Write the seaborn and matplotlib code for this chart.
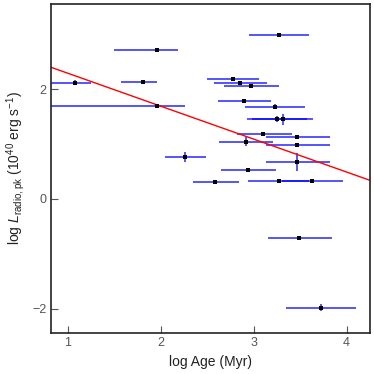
import numpy as np
import matplotlib
matplotlib.use("Agg")
import matplotlib.pyplot as plt
import seaborn as sns

# log Age (Myr) and log L_radio,pk with error bars
log_age = [1.08, 1.96, 1.81, 1.96, 2.26, 3.27, 2.78, 2.85, 2.975, 2.90, 3.23, 3.25,
           3.31, 3.10, 3.47, 2.92, 3.47, 3.47, 2.94, 2.58, 3.27, 3.63, 3.49, 3.72]
log_lum = [2.12, 2.71, 2.13, 1.685, 0.76, 2.98, 2.18, 2.11, 2.05, 1.78, 1.68, 1.455,
           1.45, 1.19, 1.13, 1.04, 0.99, 0.67, 0.53, 0.30, 0.32, 0.32, -0.71, -1.98]
age_err_lo = [0.35, 0.46, 0.24, 1.20, 0.22, 0.32, 0.28, 0.28, 0.29, 0.28, 0.32, 0.32,
              0.33, 0.28, 0.34, 0.29, 0.34, 0.34, 0.29, 0.23, 0.33, 0.33, 0.34, 0.37]
age_err_hi = [0.17, 0.22, 0.15, 0.30, 0.23, 0.33, 0.28, 0.29, 0.30, 0.29, 0.32, 0.32,
              0.33, 0.31, 0.35, 0.29, 0.35, 0.35, 0.30, 0.26, 0.33, 0.33, 0.35, 0.38]
lum_err = [0.04, 0.0, 0.0, 0.0, 0.09, 0.0, 0.03, 0.03, 0.0, 0.0, 0.05, 0.05,
           0.10, 0.0, 0.04, 0.08, 0.02, 0.16, 0.04, 0.0, 0.0, 0.03, 0.0, 0.06]

# linear fit: log L = intercept + slope * log Age
fit_intercept = 2.89
fit_slope = -0.60

sns.set_style("white")
plt.rcParams["font.family"] = ["Liberation Sans", "DejaVu Sans"]
plt.rcParams["mathtext.fontset"] = "custom"
plt.rcParams["mathtext.rm"] = "Liberation Sans"
plt.rcParams["mathtext.it"] = "Liberation Sans:italic"

fig = plt.figure(figsize=(3.74, 3.74), dpi=100)
ax = fig.add_axes([0.136, 0.11, 0.853, 0.879])

xlim = (0.817, 4.25)
ax.errorbar(log_age, log_lum, xerr=[age_err_lo, age_err_hi], yerr=lum_err,
            fmt="none", ecolor="blue", elinewidth=1.1, alpha=0.85, capsize=0)
sns.scatterplot(x=log_age, y=log_lum, marker="s", s=8, color="black",
                linewidth=0, ax=ax, zorder=3)

fit_x = np.array(xlim)
sns.lineplot(x=fit_x, y=fit_intercept + fit_slope * fit_x, color="red",
             linewidth=1.0, ax=ax)

ax.set_xlim(*xlim)
ax.set_ylim(-2.44, 3.55)
ax.set_xticks([1, 2, 3, 4])
ax.set_yticks([-2, 0, 2])
ax.set_yticklabels(["\u22122", "0", "2"])
ax.tick_params(bottom=True, left=True, direction="in", length=5, width=0.8,
               colors="#555555", labelsize=9, pad=3)
for side in ax.spines.values():
    side.set_color("#222222")
    side.set_linewidth(1.2)

ax.set_xlabel("log Age (Myr)", fontsize=10, color="#222222")
ax.set_ylabel(r"log $L_{\rm radio,pk}$ (10$^{40}$ erg s$^{-1}$)", fontsize=10,
              color="#222222")

fig.savefig("out.png", dpi=100)
